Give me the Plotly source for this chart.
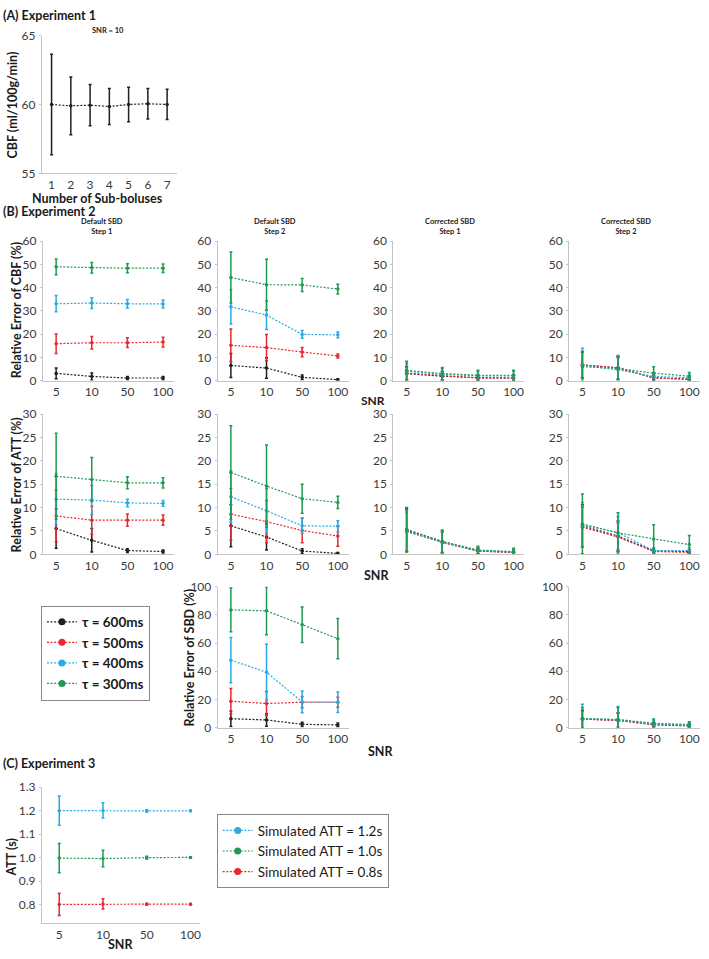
import plotly.graph_objects as go

W, H = 709, 959

# ---------------- data ----------------
subboluses = [1, 2, 3, 4, 5, 6, 7]
cbf_exp1_mean = [60.0, 59.9, 59.95, 59.85, 60.0, 60.05, 60.0]
cbf_exp1_err = [3.65, 2.1, 1.5, 1.3, 1.25, 1.1, 1.1]

snr_labels = ["5", "10", "50", "100"]
tau_labels = ["τ = 600ms", "τ = 500ms", "τ = 400ms", "τ = 300ms"]

# series order in each panel: tau 600, 500, 400, 300 ms
cbf_def_s1_mean = [[3.1, 1.8, 1.1, 1.1], [15.9, 16.3, 16.3, 16.6], [33.1, 33.4, 33.1, 33.0], [49.0, 48.6, 48.4, 48.4]]
cbf_def_s1_err = [[2.3, 1.5, 0.7, 0.7], [4.2, 2.7, 2.1, 2.1], [3.5, 2.3, 1.8, 1.75], [3.4, 2.3, 1.9, 1.8]]
cbf_def_s2_mean = [[6.5, 5.4, 1.4, 0.4], [15.2, 14.2, 12.3, 10.6], [31.8, 28.2, 19.9, 19.7], [44.4, 41.3, 41.2, 39.4]]
cbf_def_s2_err = [[5.2, 4.4, 1.0, 0.4], [7.0, 5.7, 2.0, 0.9], [7.4, 6.2, 1.7, 1.2], [11.0, 11.0, 2.8, 2.1]]
cbf_cor_s1_mean = [[3.0, 1.9, 1.2, 1.1], [3.2, 2.0, 1.1, 1.1], [4.0, 2.7, 2.0, 2.0], [4.4, 3.0, 2.3, 2.3]]
cbf_cor_s1_err = [[2.8, 1.9, 1.2, 1.1], [3.0, 2.0, 1.1, 1.1], [3.5, 2.4, 1.9, 2.0], [3.9, 2.6, 2.1, 2.2]]
cbf_cor_s2_mean = [[6.7, 5.5, 1.2, 0.6], [6.8, 5.4, 1.2, 0.5], [6.6, 4.6, 1.8, 1.2], [6.0, 5.2, 3.2, 1.9]]
cbf_cor_s2_err = [[5.5, 4.8, 1.1, 0.6], [5.8, 4.9, 1.1, 0.5], [7.3, 5.0, 1.7, 1.2], [6.2, 5.6, 2.8, 1.6]]

att_def_s1_mean = [[5.5, 3.0, 0.8, 0.6], [8.2, 7.3, 7.3, 7.3], [11.8, 11.6, 11.0, 10.9], [16.7, 16.0, 15.3, 15.3]]
att_def_s1_err = [[4.2, 2.5, 0.4, 0.3], [5.5, 3.0, 1.3, 1.1], [5.5, 3.1, 0.8, 0.6], [9.2, 4.7, 1.3, 1.1]]
att_def_s2_mean = [[6.1, 3.7, 0.7, 0.2], [8.6, 7.0, 5.1, 3.9], [12.3, 9.3, 6.1, 6.0], [17.5, 14.6, 11.9, 11.1]]
att_def_s2_err = [[4.5, 2.8, 0.5, 0.2], [5.5, 4.5, 2.6, 2.2], [5.5, 4.8, 1.6, 1.2], [10.0, 8.8, 3.1, 1.3]]
att_cor_s1_mean = [[5.2, 2.7, 0.7, 0.4], [5.0, 2.5, 0.7, 0.4], [4.8, 2.6, 0.8, 0.5], [5.3, 2.8, 0.9, 0.6]]
att_cor_s1_err = [[4.6, 2.3, 0.6, 0.5], [4.5, 2.2, 0.6, 0.5], [4.2, 2.3, 0.7, 0.6], [4.7, 2.4, 0.8, 0.7]]
att_cor_s2_mean = [[6.1, 3.9, 0.7, 0.6], [5.8, 3.7, 0.6, 0.4], [6.3, 4.6, 0.8, 0.8], [6.5, 4.6, 3.3, 2.1]]
att_cor_s2_err = [[4.5, 3.2, 0.5, 0.4], [4.3, 3.0, 0.4, 0.3], [4.8, 3.5, 0.6, 0.6], [6.4, 4.3, 3.0, 1.9]]

sbd_def_s2_mean = [[6.3, 5.4, 2.3, 1.9], [18.7, 17.1, 18.0, 18.0], [47.9, 39.3, 18.2, 18.0], [83.6, 82.9, 73.1, 63.1]]
sbd_def_s2_err = [[5.5, 4.5, 1.5, 1.3], [9.0, 8.5, 4.0, 3.5], [16.0, 19.8, 7.7, 7.3], [15.5, 17.0, 12.6, 14.3]]
sbd_cor_s2_mean = [[6.0, 5.2, 2.0, 1.2], [6.0, 5.0, 2.2, 1.4], [6.5, 5.5, 2.5, 1.8], [6.3, 5.8, 3.0, 2.2]]
sbd_cor_s2_err = [[6.0, 5.0, 1.5, 1.0], [6.5, 5.5, 1.6, 1.1], [10.0, 9.5, 2.5, 1.5], [8.0, 8.5, 3.0, 2.0]]

att_sim_labels = ["Simulated ATT = 1.2s", "Simulated ATT = 1.0s", "Simulated ATT = 0.8s"]
att_exp3_mean = [[1.200, 1.201, 1.199, 1.199], [0.998, 0.996, 1.000, 1.001], [0.801, 0.803, 0.802, 0.802]]
att_exp3_err = [[0.062, 0.032, 0.005, 0.003], [0.062, 0.035, 0.006, 0.003], [0.047, 0.022, 0.004, 0.003]]

# ---------------- style ----------------
BLACK, RED, BLUE, GREEN = "#231f20", "#e8282e", "#29abe2", "#1f9a50"
tau_colors = [BLACK, RED, BLUE, GREEN]
exp3_colors = [BLUE, GREEN, RED]
TITLE_FONT = "Lato, sans-serif"
TICK_FONT = "Lato, sans-serif"
DASH = "2px,1.6px"
AXCOL = "#c4c4c4"
TICK_SIZE = 12

fig = go.Figure()
layout = dict(width=W, height=H, autosize=False, margin=dict(l=0, r=0, t=0, b=0),
              paper_bgcolor="white", plot_bgcolor="white", showlegend=True)


def xd(a, b):
    return [a / W, b / W]


def yd(top, bottom):
    return [1 - bottom / H, 1 - top / H]


def add_axes(n, xdom, ydom, xrange, yrange, ytickvals, xtype="category", xtickvals=None):
    sfx = "" if n == 1 else str(n)
    common = dict(showline=True, linecolor=AXCOL, linewidth=1, showgrid=False, zeroline=False,
                  tickcolor=AXCOL,
                  tickfont=dict(family=TICK_FONT, size=TICK_SIZE, color="#3a3a3a"))
    xa = dict(common, domain=xdom, range=xrange, anchor="y" + sfx, type=xtype, ticks="")
    if xtickvals is not None:
        xa["tickvals"] = xtickvals
    layout["xaxis" + sfx] = xa
    layout["yaxis" + sfx] = dict(common, domain=ydom, range=yrange, anchor="x" + sfx,
                                 tickvals=ytickvals, ticks="outside", ticklen=2,
                                 ticklabelstandoff=1)


def add_series(n, x, y, err, color):
    sfx = "" if n == 1 else str(n)
    fig.add_trace(go.Scatter(
        x=x, y=y, mode="lines+markers", xaxis="x" + sfx, yaxis="y" + sfx, showlegend=False,
        line=dict(color=color, width=1.2, dash=DASH),
        marker=dict(color=color, size=3.5),
        error_y=dict(type="data", array=err, color=color, thickness=1.5, width=1.5),
        hoverinfo="skip"))


# Panel A
add_axes(1, xd(42, 177), yd(28, 168), [0.5, 7.5], [55, 65], [55, 60, 65], xtype="linear",
         xtickvals=subboluses)
add_series(1, subboluses, cbf_exp1_mean, cbf_exp1_err, BLACK)

# Panel B
col_x = [(43, 174), (218, 349), (394, 525), (570, 701)]
B_XR = [-0.37, 3.3]
rows = [
    ((237, 378.5), [0, 60], list(range(0, 61, 10)),
     [cbf_def_s1_mean, cbf_def_s2_mean, cbf_cor_s1_mean, cbf_cor_s2_mean],
     [cbf_def_s1_err, cbf_def_s2_err, cbf_cor_s1_err, cbf_cor_s2_err], [0, 1, 2, 3]),
    ((412.5, 555), [0, 30], list(range(0, 31, 5)),
     [att_def_s1_mean, att_def_s2_mean, att_cor_s1_mean, att_cor_s2_mean],
     [att_def_s1_err, att_def_s2_err, att_cor_s1_err, att_cor_s2_err], [0, 1, 2, 3]),
    ((588, 731), [0, 100], list(range(0, 101, 20)),
     [sbd_def_s2_mean, sbd_cor_s2_mean], [sbd_def_s2_err, sbd_cor_s2_err], [1, 3]),
]
n = 2
for (ytop, ybot), yr, yt, means, errs, cols in rows:
    for mean, err, c in zip(means, errs, cols):
        add_axes(n, xd(*col_x[c]), yd(ytop, ybot), B_XR, yr, yt)
        for k in range(4):
            add_series(n, snr_labels, mean[k], err[k], tau_colors[k])
        n += 1

# Panel C
add_axes(n, xd(42, 200), yd(791.5, 930), [-0.395, 3.21], [0.72, 1.3],
         [0.8, 0.9, 1.0, 1.1, 1.2, 1.3])
layout["yaxis" + str(n)]["ticktext"] = ["0.8", "0.9", "1.0", "1.1", "1.2", "1.3"]
for k in range(3):
    add_series(n, snr_labels, att_exp3_mean[k], att_exp3_err[k], exp3_colors[k])

# legend entries
for k in range(4):
    fig.add_trace(go.Scatter(x=[None], y=[None], mode="lines+markers", name=tau_labels[k],
                             legend="legend", line=dict(color=tau_colors[k], width=1.2, dash=DASH),
                             marker=dict(color=tau_colors[k], size=7)))
for k in range(3):
    fig.add_trace(go.Scatter(x=[None], y=[None], mode="lines+markers", name=att_sim_labels[k],
                             legend="legend2", line=dict(color=exp3_colors[k], width=1.2, dash=DASH),
                             marker=dict(color=exp3_colors[k], size=7)))

layout["legend"] = dict(x=41 / W, y=1 - 607 / H, xanchor="left", yanchor="top",
                        bgcolor="white", bordercolor="#888", borderwidth=1, itemwidth=30,
                        font=dict(family="Lato, sans-serif", size=13.5, color="#1a1a1a", weight="bold"),
                        tracegroupgap=0)
layout["legend2"] = dict(x=217 / W, y=1 - 819 / H, xanchor="left", yanchor="top",
                         bgcolor="white", bordercolor="#888", borderwidth=1, itemwidth=30,
                         font=dict(family="Lato, sans-serif", size=13.5, color="#1a1a1a"),
                         tracegroupgap=0)


def ann(text, x, y, size, angle=0, xanchor="center"):
    return dict(text="<b>" + text + "</b>", x=x / W, y=1 - y / H, xref="paper", yref="paper",
                showarrow=False, textangle=angle, xanchor=xanchor, yanchor="middle",
                font=dict(family=TITLE_FONT, size=size, color="#1a1a1a"))


annotations = [
    ann("(A) Experiment 1", 1, 7.5, 12.5, xanchor="left"),
    ann("SNR = 10", 108, 23, 7.5),
    ann("CBF (ml/100g/min)", 12, 98, 12.5, angle=-90),
    ann("Number of Sub-boluses", 98, 194, 12.5),
    ann("(B) Experiment 2", 1, 207, 12.5, xanchor="left"),
    ann("Default SBD<br>Step 1", 102, 222, 7.5),
    ann("Default SBD<br>Step 2", 275, 222, 7.5),
    ann("Corrected SBD<br>Step 1", 451, 222, 7.5),
    ann("Corrected SBD<br>Step 2", 627, 222, 7.5),
    ann("Relative Error of CBF (%)", 16, 307, 12.5, angle=-90),
    ann("Relative Error of ATT (%)", 16, 484, 12.5, angle=-90),
    ann("Relative Error of SBD (%)", 190, 660, 12.5, angle=-90),
    ann("SNR", 374, 398.5, 12),
    ann("SNR", 377, 577, 12.5),
    ann("SNR", 381, 755, 12.5),
    ann("(C) Experiment 3", 1, 768, 12.5, xanchor="left"),
    ann("ATT (s)", 12, 863, 12.5, angle=-90),
    ann("SNR", 121, 951, 12.5),
]
layout["annotations"] = annotations

fig.update_layout(**layout)
fig.write_html("out.html", config={"displayModeBar": False},
               post_script="document.body.style.margin='0';document.body.style.overflow='hidden';")
